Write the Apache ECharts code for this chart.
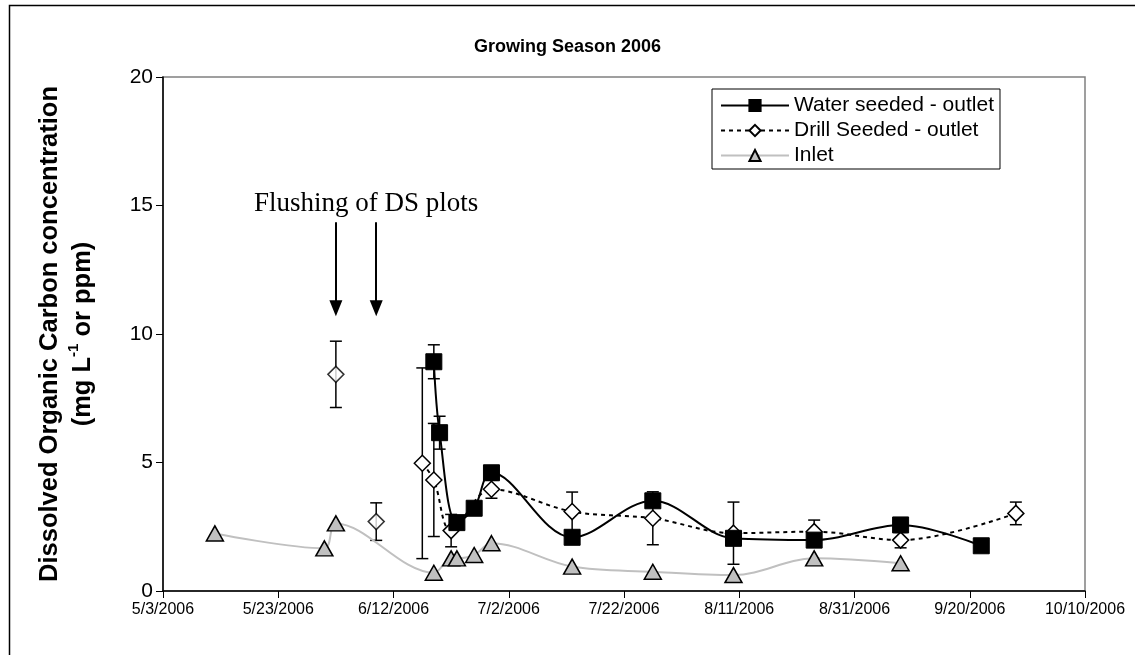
<!DOCTYPE html>
<html>
<head>
<meta charset="utf-8">
<script src="https://cdn.jsdelivr.net/npm/echarts@6/dist/echarts.min.js"></script>
<style>
  html, body { margin: 0; padding: 0; background: #fff; }
  #demo { width: 1135px; height: 655px; }
</style>
</head>
<body>
<div id="demo"></div>
<script>
// x axis: 5/3/2006 .. 10/10/2006, ticks every 20 days
var xTickStart = '5/3/2006';
var xTickEnd = '10/10/2006';
var xTickStep = 20;

// Water seeded - outlet
var wsDates = ['6/19/2006','6/20/2006','6/23/2006','6/26/2006','6/29/2006','7/13/2006','7/27/2006','8/10/2006','8/24/2006','9/8/2006','9/22/2006'];
var wsValues = [8.92, 6.16, 2.66, 3.22, 4.60, 2.09, 3.51, 2.05, 1.98, 2.57, 1.76];
var wsErr = [0.66, 0.64, 0, 0, 0, 0, 0, 0, 0, 0, 0];

// Drill Seeded - outlet (flushing samples are not joined to the line)
var dsFlushDates = ['6/2/2006','6/9/2006'];
var dsFlushValues = [8.43, 2.70];
var dsFlushErr = [1.29, 0.73];
var dsDates = ['6/17/2006','6/19/2006','6/22/2006','6/29/2006','7/13/2006','7/27/2006','8/10/2006','8/24/2006','9/8/2006','9/28/2006'];
var dsValues = [4.97, 4.32, 2.35, 3.96, 3.09, 2.83, 2.25, 2.31, 1.98, 3.02];
var dsErr = [3.71, 2.20, 0.63, 0.35, 0.76, 1.03, 1.21, 0.45, 0.30, 0.44];

// Inlet
var inDates = ['5/12/2006','5/31/2006','6/2/2006','6/19/2006','6/22/2006','6/23/2006','6/26/2006','6/29/2006','7/13/2006','7/27/2006','8/10/2006','8/24/2006','9/8/2006'];
var inValues = [2.24, 1.66, 2.63, 0.71, 1.27, 1.27, 1.40, 1.86, 0.95, 0.75, 0.62, 1.27, 1.08];

// arrows "Flushing of DS plots"
var arrowDates = ['6/2/2006','6/9/2006'];
var arrowFrom = 14.35, arrowTo = 11.0;

function toDay(s) {
  var p = s.split('/');
  return Date.UTC(+p[2], +p[0] - 1, +p[1]) / 86400000;
}
var day0 = toDay(xTickStart);
function dx(s) { return toDay(s) - day0; }
function fmtDay(v) {
  var d = new Date((v + day0) * 86400000);
  return (d.getUTCMonth() + 1) + '/' + d.getUTCDate() + '/' + d.getUTCFullYear();
}
function pts(dates, vals) {
  return dates.map(function (d, i) { return [dx(d), vals[i]]; });
}
function bars(dates, vals, err) {
  var out = [];
  dates.forEach(function (d, i) {
    if (err[i] > 0) out.push([dx(d), vals[i] - err[i], vals[i] + err[i]]);
  });
  return out;
}

function renderErr(params, api) {
  var x = api.value(0);
  var top = api.coord([x, api.value(2)]);
  var bot = api.coord([x, api.value(1)]);
  var w = 6;
  var st = { stroke: '#000', lineWidth: 1.5 };
  return {
    type: 'group',
    children: [
      { type: 'line', shape: { x1: top[0], y1: top[1], x2: bot[0], y2: bot[1] }, style: st },
      { type: 'line', shape: { x1: top[0] - w, y1: top[1], x2: top[0] + w, y2: top[1] }, style: st },
      { type: 'line', shape: { x1: bot[0] - w, y1: bot[1], x2: bot[0] + w, y2: bot[1] }, style: st }
    ]
  };
}

var font = 'Arial, "Liberation Sans", sans-serif';

var option = {
  animation: false,
  backgroundColor: '#fff',
  textStyle: { fontFamily: font, color: '#000' },
  title: {
    text: 'Growing Season 2006',
    left: 'center',
    top: 33,
    textStyle: { fontFamily: font, fontSize: 18, fontWeight: 'bold', color: '#000' }
  },
  graphic: [
    { type: 'rect', left: 7, top: 3, shape: { width: 1140, height: 700 },
      style: { fill: 'none', stroke: '#000', lineWidth: 1.5 }, silent: true },
    { type: 'text', left: 254, top: 190,
      style: { text: 'Flushing of DS plots', font: '27px "Liberation Serif", "DejaVu Serif", serif', fill: '#000' } }
  ],
  legend: {
    orient: 'vertical',
    left: 712,
    top: 89,
    padding: [6, 6, 3, 8],
    itemGap: 4,
    itemWidth: 68,
    itemHeight: 14,
    backgroundColor: '#fff',
    borderColor: '#000',
    borderWidth: 1,
    borderRadius: 0,
    textStyle: { fontFamily: font, fontSize: 21, color: '#000' },
    data: ['Water seeded - outlet', 'Drill Seeded - outlet', 'Inlet']
  },
  grid: {
    left: 163, right: 50, top: 77, bottom: 64,
    show: true, borderColor: '#808080', borderWidth: 1.5, backgroundColor: 'transparent'
  },
  xAxis: {
    type: 'value',
    min: 0,
    max: dx(xTickEnd),
    interval: xTickStep,
    splitLine: { show: false },
    axisLine: { onZero: false, lineStyle: { color: '#000', width: 1.5 } },
    axisTick: { length: 7, lineStyle: { color: '#000' } },
    axisLabel: { formatter: fmtDay, fontSize: 16, color: '#000', margin: 11, fontFamily: font }
  },
  yAxis: {
    type: 'value',
    min: 0, max: 20, interval: 5,
    splitLine: { show: false },
    axisLine: { show: true, lineStyle: { color: '#000', width: 1.5 } },
    axisTick: { show: true, length: 7, lineStyle: { color: '#000' } },
    axisLabel: { fontSize: 21, color: '#000', margin: 10, fontFamily: font },
    name: 'Dissolved Organic Carbon concentration\n(mg L{sup|-1} or ppm)',
    nameLocation: 'middle',
    nameRotate: 90,
    nameGap: 64,
    nameTextStyle: {
      fontFamily: font, fontSize: 25.5, fontWeight: 'bold', color: '#000', lineHeight: 33,
      rich: { sup: { fontSize: 15, fontWeight: 'bold', verticalAlign: 'top', lineHeight: 33, fontFamily: font } }
    }
  },
  series: [
    {
      type: 'custom', name: 'errWS', renderItem: renderErr, z: 1,
      data: bars(wsDates, wsValues, wsErr), silent: true
    },
    {
      type: 'custom', name: 'errDS', renderItem: renderErr, z: 1,
      data: bars(dsFlushDates, dsFlushValues, dsFlushErr).concat(bars(dsDates, dsValues, dsErr)), silent: true
    },
    {
      name: 'Inlet', type: 'line', smooth: 0.35, z: 2,
      data: pts(inDates, inValues),
      lineStyle: { color: '#c0c0c0', width: 2 },
      symbol: 'triangle', symbolSize: [17, 15],
      itemStyle: { color: '#c0c0c0', borderColor: '#000', borderWidth: 1.5 }
    },
    {
      name: 'Drill Seeded - outlet', type: 'line', smooth: 0.35, z: 3,
      data: pts(dsDates, dsValues),
      lineStyle: { color: '#000', width: 2, type: [4, 4] },
      symbol: 'diamond', symbolSize: 16,
      itemStyle: { color: '#fff', borderColor: '#000', borderWidth: 1.5 }
    },
    {
      name: 'Drill Seeded - outlet', type: 'scatter', z: 3,
      data: pts(dsFlushDates, dsFlushValues),
      symbol: 'diamond', symbolSize: 16,
      itemStyle: { color: '#fff', borderColor: '#000', borderWidth: 1.5 },
      markLine: {
        silent: true,
        symbol: ['none', 'triangle'],
        symbolSize: [13, 16],
        lineStyle: { color: '#000', width: 2, type: 'solid' },
        label: { show: false },
        data: arrowDates.map(function (d) {
          return [{ coord: [dx(d), arrowFrom] }, { coord: [dx(d), arrowTo] }];
        })
      }
    },
    {
      name: 'Water seeded - outlet', type: 'line', smooth: 0.35, z: 4,
      data: pts(wsDates, wsValues),
      lineStyle: { color: '#000', width: 2 },
      symbol: 'rect', symbolSize: 16,
      itemStyle: { color: '#000', borderColor: '#000', borderWidth: 1 }
    }
  ]
};

var myChart = echarts.init(document.getElementById('demo'));
myChart.setOption(option);
</script>
</body>
</html>
